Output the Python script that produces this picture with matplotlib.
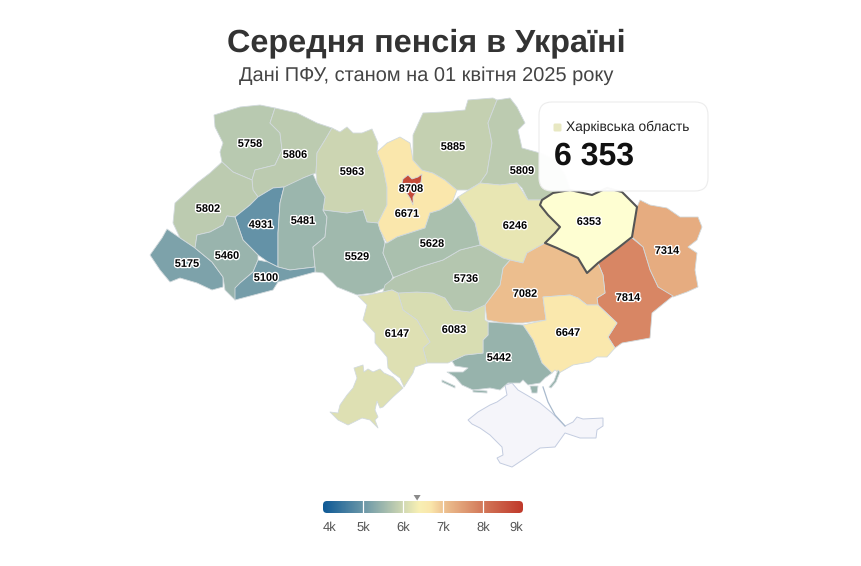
#!/usr/bin/env python3
import numpy as np
import matplotlib
matplotlib.use("Agg")
import matplotlib.pyplot as plt
from matplotlib.colors import LinearSegmentedColormap, Normalize
from matplotlib.patches import Polygon, FancyBboxPatch
import matplotlib.patheffects as pe

plt.rcParams["font.family"] = ["Liberation Sans", "DejaVu Sans"]
plt.rcParams["text.hinting"] = "no_hinting"

TITLE = "Середня пенсія в Україні"
SUBTITLE = "Дані ПФУ, станом на 01 квітня 2025 року"

regions = ["Волинська", "Рівненська", "Житомирська", "Львівська", "Тернопільська",
           "Хмельницька", "Вінницька", "Закарпатська", "Івано-Франківська", "Чернівецька",
           "Київська", "Чернігівська", "Сумська", "Полтавська", "Харківська",
           "Луганська", "Донецька", "Дніпропетровська", "Запорізька", "Херсонська",
           "Миколаївська", "Кіровоградська", "Черкаська", "Одеська", "м. Київ"]
pension = [5758, 5806, 5963, 5802, 4931,
           5481, 5529, 5175, 5460, 5100,
           6671, 5885, 5809, 6246, 6353,
           7314, 7814, 7082, 6647, 5442,
           6083, 5736, 5628, 6147, 8708]

tick_values = [4000, 5000, 6000, 7000, 8000, 9000]
tick_labels = ["4k", "5k", "6k", "7k", "8k", "9k"]
scale_values = [4000, 5000, 6000, 6400, 6700, 7000, 8000, 9000]
scale_colors = ["#0f5a96", "#6b97a8", "#d0d8b2", "#f8f0b4", "#fae6ab", "#eec492", "#d3795a", "#c0392b"]

selected = "Харківська"
selected_title = "Харківська область"

# outlines, in pixels
shapes = {
    "Волинська": [[(214,115),(240,107),(260,105),(275,108),(270,123),(280,133),(282,150),(275,165),(255,170),(252,180),(233,172),(222,162),(220,152),(223,143),(215,127)]],
    "Рівненська": [[(275,108),(297,113),(317,123),(332,128),(325,140),(317,153),(316,173),(303,178),(287,190),(283,187),(273,188),(258,197),(253,190),(252,180),(255,170),(275,165),(282,150),(280,133),(270,123)]],
    "Житомирська": [[(332,128),(340,132),(347,127),(353,133),(362,133),(372,129),(378,143),(377,152),(383,167),(387,187),(387,205),(378,223),(367,222),(363,210),(347,213),(323,210),(325,197),(317,183),(316,173),(317,153),(325,140)]],
    "Львівська": [[(222,162),(233,172),(252,180),(253,190),(258,197),(250,205),(235,217),(227,216),(223,225),(210,232),(197,235),(195,248),(180,238),(173,223),(175,203),(197,183),(210,173)]],
    "Тернопільська": [[(258,197),(273,188),(284,187),(280,203),(278,233),(278,267),(268,262),(258,255),(243,240),(235,217),(250,205)]],
    "Хмельницька": [[(284,187),(303,178),(313,174),(317,183),(325,197),(323,210),(327,217),(325,237),(313,247),(315,267),(290,270),(278,267),(278,233),(280,203)]],
    "Вінницька": [[(323,210),(347,213),(363,210),(367,222),(378,223),(385,243),(383,253),(393,277),(387,287),(373,293),(357,295),(337,287),(323,273),(315,272),(315,267),(313,247),(325,237),(327,217)]],
    "Закарпатська": [[(167,229),(180,238),(195,248),(212,262),(223,277),(223,287),(212,290),(197,283),(180,278),(170,282),(160,270),(150,255),(162,238)]],
    "Івано-Франківська": [[(227,216),(235,217),(243,240),(258,255),(258,260),(253,272),(240,283),(235,300),(225,290),(223,277),(212,262),(195,248),(197,235),(210,232),(223,225)]],
    "Чернівецька": [[(258,260),(268,262),(278,267),(290,270),(315,267),(315,272),(293,278),(278,282),(273,290),(235,300),(235,288),(240,283),(253,272)]],
    "Київська": [[(377,152),(387,143),(400,137),(410,143),(413,160),(422,170),(433,173),(445,180),(457,190),(452,203),(440,210),(430,213),(425,228),(397,237),(387,243),(380,230),(378,223),(387,205),(387,187),(383,167)]],
    "Чернігівська": [[(423,113),(443,112),(465,110),(468,100),(493,98),(497,100),(488,123),(492,143),(487,173),(480,183),(468,190),(457,190),(445,180),(433,173),(422,170),(413,160),(413,135)]],
    "Сумська": [[(497,100),(510,98),(517,107),(525,123),(518,130),(522,148),(540,153),(555,160),(565,175),(570,190),(553,193),(542,200),(528,200),(522,188),(517,183),(500,185),(480,183),(487,173),(492,143),(488,123)]],
    "Полтавська": [[(458,197),(480,183),(500,185),(517,183),(528,200),(542,200),(540,205),(548,215),(560,227),(555,233),(545,243),(527,253),(523,263),(510,260),(503,258),(480,245),(475,223)]],
    "Харківська": [[(542,200),(553,193),(570,190),(592,195),(607,188),(622,192),(637,207),(632,237),(618,248),(598,263),(587,273),(578,258),(557,248),(545,243),(555,233),(560,227),(548,215),(540,205)]],
    "Луганська": [[(637,207),(640,200),(650,205),(667,208),(680,217),(698,217),(702,227),(697,240),(688,247),(697,253),(695,270),(698,287),(687,292),(673,297),(658,287),(650,270),(643,247),(632,237)]],
    "Донецька": [[(632,238),(643,247),(650,270),(658,287),(673,296),(652,313),(650,338),(622,343),(615,348),(608,337),(617,323),(598,305),(597,298),(605,293),(603,275),(598,263),(618,248)]],
    "Дніпропетровська": [[(500,285),(503,268),(510,260),(523,263),(527,253),(545,243),(557,248),(578,258),(587,273),(598,263),(603,275),(605,293),(597,298),(598,305),(587,305),(578,298),(570,295),(543,297),(546,320),(523,323),(503,323),(487,320),(485,305)]],
    "Запорізька": [[(543,297),(570,295),(578,298),(587,305),(598,305),(617,323),(608,337),(615,348),(607,357),(597,357),(590,362),(573,365),(559,373),(555,370),(552,373),(542,363),(533,340),(523,325),(546,320)]],
    "Херсонська": [[(488,322),(503,323),(523,325),(533,340),(542,363),(552,373),(545,378),(540,383),(528,385),(523,380),(520,383),(508,383),(500,390),(490,388),(473,390),(462,385),(455,377),(447,372),(463,372),(468,368),(455,366),(452,361),(465,355),(483,353),(483,340),(488,335)],
                   [(442,380),(455,386),(455,388),(442,382)],
                   [(473,390),(487,391),(487,393),(473,392)],
                   [(530,386),(538,386),(537,393),(532,393)],
                   [(558,370),(560,372),(556,382),(551,388),(549,387),(554,381)]],
    "Миколаївська": [[(398,293),(417,292),(433,293),(445,298),(453,310),(470,312),(485,302),(485,320),(488,322),(488,335),(483,340),(483,353),(465,355),(452,361),(448,363),(427,363),(423,348),(430,342),(417,320),(403,310)]],
    "Кіровоградська": [[(385,285),(395,277),(420,267),(443,260),(460,250),(480,245),(503,258),(510,260),(503,268),(500,285),(485,305),(470,312),(453,310),(445,298),(433,293),(417,292),(398,293),(392,290),(383,292)]],
    "Черкаська": [[(387,243),(397,237),(425,228),(430,213),(440,210),(452,203),(458,197),(475,223),(480,245),(460,250),(443,260),(420,267),(395,277),(393,277),(383,253),(385,243)]],
    "Одеська": [[(358,296),(368,295),(383,292),(392,290),(398,293),(403,310),(417,320),(430,342),(423,348),(427,363),(415,367),(413,373),(404,387),(400,378),(393,373),(388,368),(387,357),(375,343),(375,333),(363,320),(367,305)],
                [(330,412),(338,413),(340,405),(347,395),(353,388),(357,378),(354,368),(363,365),(364,372),(368,369),(373,372),(380,369),(384,373),(393,377),(398,382),(403,388),(393,397),(383,407),(380,408),(377,401),(375,410),(378,417),(375,420),(378,428),(370,420),(362,418),(348,425),(338,420)]],
    "м. Київ": [[(403,179),(408,175),(412,179),(418,177),(422,174),(421,182),(417,191),(413,197),(413,205),(410,198),(408,195),(403,188),(402,183)]],
}
crimea = [(468,420),(478,412),(490,405),(497,402),(507,395),(505,385),(512,383),(518,390),(530,397),(540,403),(552,413),(565,426),(573,422),(577,417),(583,419),(603,418),(603,426),(597,430),(596,438),(580,438),(565,433),(555,447),(540,448),(527,457),(512,467),(500,463),(497,458),(503,455),(502,447),(490,435),(480,428),(472,424)]
arabat = [(543,387),(548,402),(555,415),(565,426)]

label_pos = {
    "Волинська": (250,144), "Рівненська": (295,155), "Житомирська": (352,172), "Львівська": (208,209),
    "Тернопільська": (261,225), "Хмельницька": (303,221), "Вінницька": (357,257), "Закарпатська": (187,264),
    "Івано-Франківська": (227,256), "Чернівецька": (266,278), "Київська": (407,214), "Чернігівська": (453,147),
    "Сумська": (522,171), "Полтавська": (515,226), "Харківська": (589,222), "Луганська": (667,251),
    "Донецька": (628,298), "Дніпропетровська": (525,294), "Запорізька": (568,333), "Херсонська": (499,358),
    "Миколаївська": (454,330), "Кіровоградська": (466,279), "Черкаська": (432,244), "Одеська": (397,334),
    "м. Київ": (411,189),
}

cmap = LinearSegmentedColormap.from_list(
    "pension", [((v - 4000) / 5000, c) for v, c in zip(scale_values, scale_colors)])
norm = Normalize(4000, 9000)


def draw_map(ax):
    values = dict(zip(regions, pension))
    ax.add_patch(Polygon(crimea, closed=True, facecolor="#f5f5fa", edgecolor="#c3cce0", linewidth=0.7))
    ax.plot(*zip(*arabat), color="#a9bacd", linewidth=0.9)
    for name in regions:
        if name == selected:
            continue
        for part in shapes[name]:
            ax.add_patch(Polygon(part, closed=True, facecolor=cmap(norm(values[name])),
                                 edgecolor="#d2dadd", linewidth=0.6, joinstyle="round"))
    for part in shapes[selected]:
        ax.add_patch(Polygon(part, closed=True, facecolor="#fefed2", edgecolor="#555555",
                             linewidth=1.5, joinstyle="round", zorder=3))
    halo = [pe.withStroke(linewidth=2, foreground="white")]
    for name in regions:
        x, y = label_pos[name]
        ax.text(x, y, str(values[name]), ha="center", va="center", fontsize=7.9,
                fontweight="bold", color="black", path_effects=halo, zorder=5)


def draw_scale(ax):
    x0, x1, y0, y1 = 323, 523, 501, 513
    px = lambda v: x0 + (v - 4000) / 5000 * (x1 - x0)
    grad = np.linspace(0, 1, 400).reshape(1, -1)
    im = ax.imshow(grad, extent=(x0, x1, y1, y0), cmap=cmap, aspect="auto", zorder=2)
    clip = FancyBboxPatch((x0, y0), x1 - x0, y1 - y0, boxstyle="round,pad=0,rounding_size=4",
                          facecolor="none", edgecolor="none", transform=ax.transData)
    ax.add_patch(clip)
    im.set_clip_path(clip)
    for v in tick_values[1:-1]:
        ax.plot([px(v), px(v)], [y0, y1], color="white", linewidth=0.9, zorder=3)
    for v, lab in zip(tick_values, tick_labels):
        # end labels stay inside the bar
        x = min(max(px(v), x0 + 7), x1 - 7)
        ax.text(x, 528, lab, ha="center", va="center", fontsize=9.4, color="#555555")
    value = pension[regions.index(selected)]
    ax.fill([px(value) - 3.5, px(value) + 3.5, px(value)], [495, 495, 500.5],
            color="#8a8a8a", linewidth=0, zorder=4)


def draw_tooltip(ax):
    value = pension[regions.index(selected)]
    ax.add_patch(FancyBboxPatch((539, 102), 169, 89, boxstyle="round,pad=0,rounding_size=13",
                                facecolor=(1, 1, 1, 0.97), edgecolor="#ececec", linewidth=0.8, zorder=8))
    ax.add_patch(FancyBboxPatch((553.5, 123.5), 8, 8, boxstyle="round,pad=0,rounding_size=1.5",
                                facecolor="#e8e8c2", edgecolor="none", zorder=9))
    ax.text(566, 127, selected_title, ha="left", va="center", fontsize=9.9, color="#222222", zorder=9)
    ax.text(554, 156, f"{value:,}".replace(",", " "), ha="left", va="center", fontsize=23,
            fontweight="bold", color="#111111", zorder=9)


def main():
    fig = plt.figure(figsize=(8.62, 5.66), dpi=100)
    ax = fig.add_axes([0, 0, 1, 1])
    ax.axis("off")

    ax.text(426, 43, TITLE, ha="center", va="center", fontsize=23.3, fontweight="bold", color="#333333")
    ax.text(426, 76, SUBTITLE, ha="center", va="center", fontsize=14.4, color="#444444")

    draw_map(ax)
    draw_scale(ax)
    draw_tooltip(ax)

    ax.set_xlim(0, 862)
    ax.set_ylim(566, 0)
    fig.savefig("out.png", dpi=100, facecolor="white")
    plt.close(fig)


if __name__ == "__main__":
    main()
